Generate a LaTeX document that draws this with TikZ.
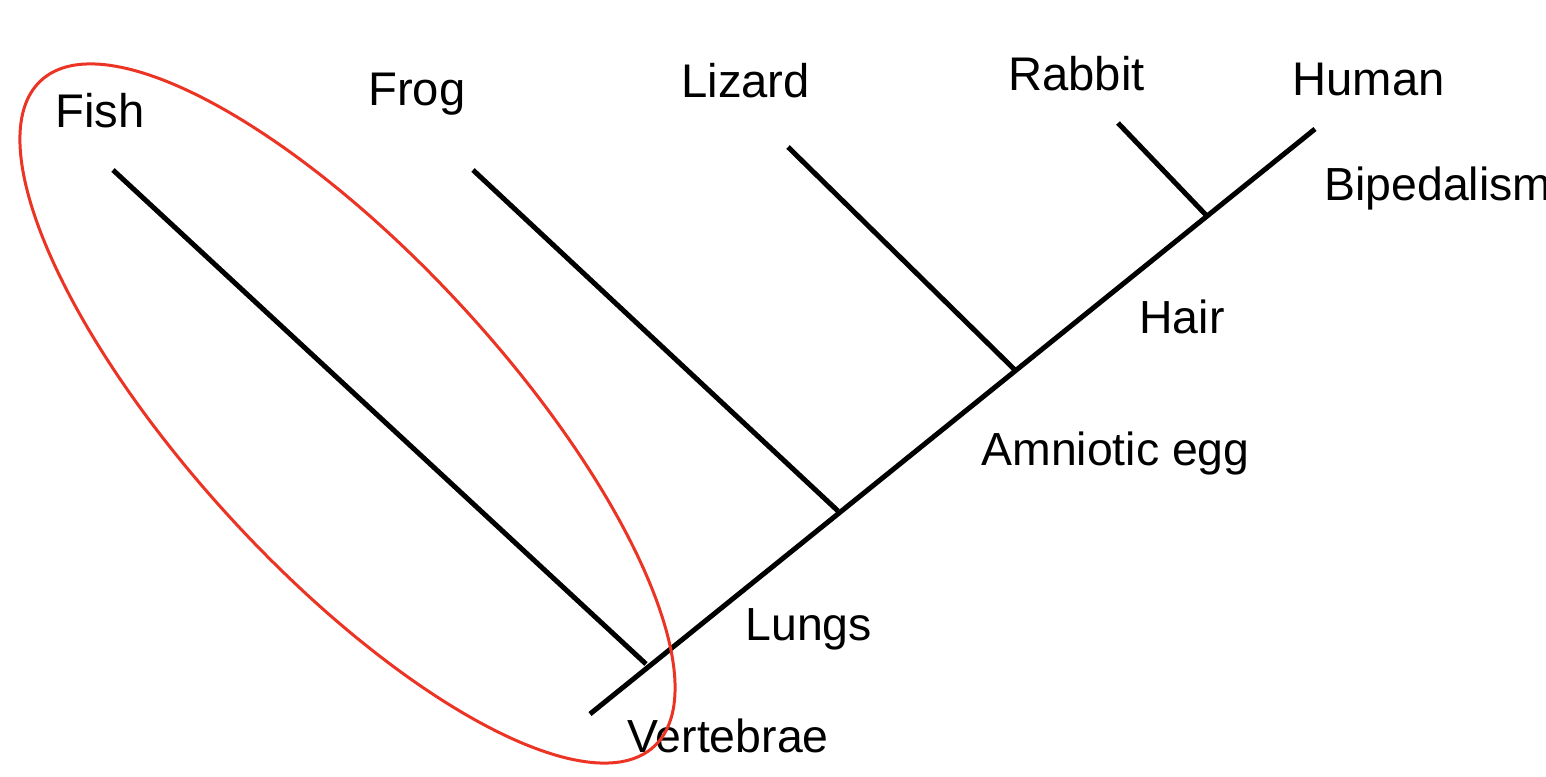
\documentclass[tikz,border=0pt]{standalone}
\usepackage{fontspec}
\setmainfont{Liberation Sans}
\definecolor{ovalred}{RGB}{236,52,36}
\begin{document}
\begin{tikzpicture}[x=0.5pt,y=-0.5pt,
  species/.style={anchor=base west,inner sep=0pt,font=\fontsize{23.6pt}{28pt}\selectfont},
  trait/.style={anchor=base west,inner sep=0pt,font=\fontsize{23.2pt}{27pt}\selectfont},
  branch/.style={line width=2.5pt,black},
  oval/.style={line width=1.5pt,draw=ovalred}]
\useasboundingbox (0,0) rectangle (1546,776);
\clip (0,0) rectangle (1546,776);
% species labels
\node[species] (fish) at (55,127) {Fish};
\node[species] (frog) at (368,105) {Frog};
\node[species] (lizard) at (681,97) {Lizard};
\node[species] (rabbit) at (1008,90) {Rabbit};
\node[species] (human) at (1292,95) {Human};
% trait labels
\node[trait] (biped) at (1324,200) {Bipedalism};
\node[trait] (hair) at (1139,333) {Hair};
\node[trait] (amnio) at (981,465) {Amniotic egg};
\node[trait] (lungs) at (745,640) {Lungs};
\node[trait] (verte) at (627,752) {Vertebrae};
% tree
\coordinate (root) at (590,714);
\coordinate (humtip) at (1315,129);
\coordinate (fishtip) at (113,170);
\coordinate (fishjoin) at (646,664);
\coordinate (frogtip) at (473,170);
\coordinate (frogjoin) at (838,511);
\coordinate (liztip) at (788,147);
\coordinate (lizjoin) at (1016,371);
\coordinate (rabtip) at (1118,123);
\coordinate (rabjoin) at (1206,215);
\draw[branch] (root) -- (humtip);
\draw[branch] (fishtip) -- (fishjoin);
\draw[branch] (frogtip) -- (frogjoin);
\draw[branch] (liztip) -- (lizjoin);
\draw[branch] (rabtip) -- (rabjoin);
% red oval
\coordinate (ovc) at (347.5,413.5);
\draw[oval,rotate around={-47.37:(ovc)}] (ovc) ellipse [x radius=226.3pt, y radius=78.4pt];
\end{tikzpicture}
\end{document}
